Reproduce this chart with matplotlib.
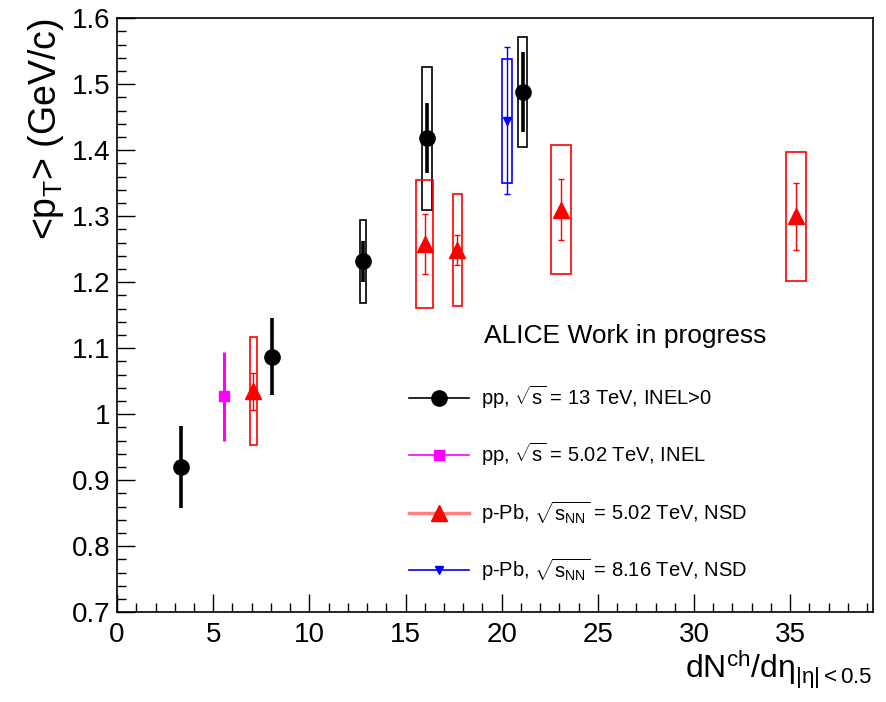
import numpy as np
import matplotlib
matplotlib.use('Agg')
import matplotlib.pyplot as plt
from matplotlib.patches import Rectangle
from matplotlib.lines import Line2D
from matplotlib.ticker import MultipleLocator

plt.rcParams['font.family'] = ['Liberation Sans', 'DejaVu Sans']
plt.rcParams['mathtext.fontset'] = 'custom'
plt.rcParams['mathtext.rm'] = 'Liberation Sans'
plt.rcParams['mathtext.it'] = 'Liberation Sans:italic'
plt.rcParams['mathtext.default'] = 'regular'

# pp 13 TeV, INEL>0
pp13_x = [3.33, 8.07, 12.8, 16.1, 21.1]
pp13_y = [0.92, 1.087, 1.232, 1.418, 1.488]
pp13_stat = [0.062, 0.058, 0.031, 0.053, 0.061]
pp13_sys = [0.0, 0.0, 0.063, 0.108, 0.083]
pp13_xw = [0.0, 0.0, 0.16, 0.26, 0.23]

# pp 5.02 TeV, INEL
pp5_x = [5.57]
pp5_y = [1.027]
pp5_stat = [0.067]

# p-Pb 5.02 TeV, NSD
ppb5_x = [7.08, 15.99, 17.7, 23.07, 35.3]
ppb5_y = [1.035, 1.258, 1.249, 1.31, 1.30]
ppb5_stat = [0.028, 0.045, 0.023, 0.046, 0.051]
ppb5_sys = [0.082, 0.097, 0.085, 0.098, 0.098]
ppb5_xw = [0.18, 0.44, 0.23, 0.52, 0.5]

# p-Pb 8.16 TeV, NSD
ppb8_x = [20.27]
ppb8_y = [1.445]
ppb8_stat = [0.112]
ppb8_sys = [0.094]
ppb8_xw = [0.26]


def sys_boxes(ax, xs, ys, sys, xw, color, lw=1.2):
    for x, y, s, w in zip(xs, ys, sys, xw):
        if s <= 0:
            continue
        ax.add_patch(Rectangle((x - w, y - s), 2 * w, 2 * s, fill=False,
                               edgecolor=color, lw=lw, zorder=2))


fig = plt.figure(figsize=(8.87, 7.02), dpi=100)
ax = fig.add_axes([0.132, 0.128, 0.852, 0.846])

sys_boxes(ax, pp13_x, pp13_y, pp13_sys, pp13_xw, 'black')
sys_boxes(ax, ppb5_x, ppb5_y, ppb5_sys, ppb5_xw, 'red')
sys_boxes(ax, ppb8_x, ppb8_y, ppb8_sys, ppb8_xw, 'blue')

ax.errorbar(pp13_x, pp13_y, yerr=pp13_stat, fmt='o', color='black', ms=11,
            elinewidth=2.6, capsize=0, zorder=4)
ax.errorbar(pp5_x, pp5_y, yerr=pp5_stat, fmt='s', color='#ff00ff', ms=7,
            elinewidth=2.2, capsize=0, zorder=4)
ax.errorbar(ppb5_x, ppb5_y, yerr=ppb5_stat, fmt='^', color='red', ms=11,
            elinewidth=1.0, capsize=2, capthick=1.0, zorder=4)
ax.errorbar(ppb8_x, ppb8_y, yerr=ppb8_stat, fmt='v', color='blue', ms=6,
            elinewidth=1.0, capsize=2, capthick=1.0, zorder=4)

ax.set_xlim(0, 39.3)
ax.set_ylim(0.7, 1.6)
ax.xaxis.set_major_locator(MultipleLocator(5))
ax.xaxis.set_minor_locator(MultipleLocator(1))
ax.yaxis.set_major_locator(MultipleLocator(0.1))
ax.yaxis.set_minor_locator(MultipleLocator(0.02))
ax.set_yticks(np.arange(0.7, 1.601, 0.1))
ax.set_yticklabels(['0.7', '0.8', '0.9', '1', '1.1', '1.2', '1.3', '1.4', '1.5', '1.6'])
ax.tick_params(which='major', direction='in', length=13, width=1, labelsize=20)
ax.tick_params(axis='x', which='major', pad=7)
ax.tick_params(axis='y', which='major', pad=5)
ax.tick_params(which='minor', direction='in', length=6.5, width=1)
ax.tick_params(top=False, right=False)
for sp in ax.spines.values():
    sp.set_linewidth(1.2)

ax.set_ylabel(r'<p$_{\rm T}$> (GeV/c)', fontsize=27, loc='top', labelpad=4)
ax.set_xlabel(r'dN$^{\rm ch}$/d$\eta_{|\eta|<0.5}$', fontsize=23, loc='right', labelpad=1)

ax.text(0.486, 0.465, 'ALICE Work in progress', transform=ax.transAxes,
        fontsize=19, va='center', ha='left')

handles = [
    Line2D([], [], color='black', marker='o', ms=11, lw=1.2),
    Line2D([], [], color='#ff00ff', marker='s', ms=7, lw=1.2),
    Line2D([], [], color='#ff8080', marker='^', ms=11, mfc='red', mec='red', lw=2.5),
    Line2D([], [], color='blue', marker='v', ms=6, lw=1.2),
]
labels = [
    r'pp, $\sqrt{s}$ = 13 TeV, INEL>0',
    r'pp, $\sqrt{s}$ = 5.02 TeV, INEL',
    r'p-Pb, $\sqrt{s_{\rm NN}}$ = 5.02 TeV, NSD',
    r'p-Pb, $\sqrt{s_{\rm NN}}$ = 8.16 TeV, NSD',
]
ax.legend(handles, labels, loc='upper left', bbox_to_anchor=(0.375, 0.398),
          frameon=False, fontsize=14.5, handlelength=3.0, labelspacing=1.5,
          handletextpad=0.6, borderaxespad=0)

fig.savefig('out.png', dpi=100)
